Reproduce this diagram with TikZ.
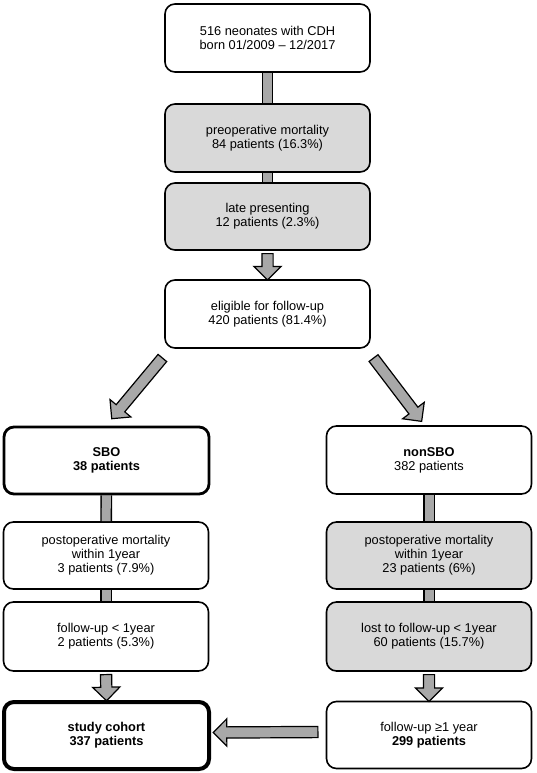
\documentclass[tikz,border=0pt]{standalone}
\usepackage{fontspec}
\setmainfont{Liberation Sans}
\usetikzlibrary{shapes.arrows,calc}
\definecolor{boxgray}{RGB}{217,217,217}
\definecolor{arrowgray}{RGB}{168,168,168}
\tikzset{
  stagebox/.style={draw, line width=1.6pt, rounded corners=10pt, minimum width=205pt,
    minimum height=68pt, align=center, inner sep=2pt, font=\fontsize{12.8}{14}\selectfont},
  exclbox/.style={stagebox, fill=boxgray},
  armbox/.style={stagebox, line width=2.8pt},
  finalbox/.style={stagebox, line width=4pt},
  link/.style={line width=1.4pt, double=arrowgray, double distance=9pt},
  bigarrow/.style={single arrow, draw, line width=1.2pt, fill=arrowgray, inner xsep=0pt,
    inner ysep=5pt, single arrow head extend=8pt, single arrow tip angle=90}
}
\newcommand{\fatarrow}[2]{%
  \path let \p1=($(#2)-(#1)$), \n1={veclen(\x1,\y1)}, \n2={atan2(\y1,\x1)} in
    node[bigarrow, minimum height=\n1, rotate=\n2] at ($(#1)!0.5!(#2)$) {};}

\begin{document}
\begin{tikzpicture}[x=1pt,y=-1pt]
\useasboundingbox (0,0) rectangle (536,773);
\node[stagebox] (born) at (267.5,38) {516 neonates with CDH\\born 01/2009 -- 12/2017};
\node[exclbox] (preop) at (267.5,138) {preoperative mortality\\84 patients (16.3\%)};
\node[exclbox, minimum height=67pt] (late) at (267.5,216.5) {late presenting\\12 patients (2.3\%)};
\node[stagebox] (elig) at (267.5,314) {eligible for follow-up\\420 patients (81.4\%)};
\node[armbox, minimum height=67pt] (sbo) at (106.5,460.5) {\textbf{SBO}\\\textbf{38 patients}};
\node[stagebox] (nonsbo) at (429,460) {\textbf{nonSBO}\\382 patients};
\node[stagebox, minimum height=67pt] (postl) at (106,555.5)
  {postoperative mortality\\within 1year\\3 patients (7.9\%)};
\node[exclbox, minimum height=67pt] (postr) at (429,555.5)
  {postoperative mortality\\within 1year\\23 patients (6\%)};
\node[stagebox, minimum height=69pt] (ful) at (106,636.5) {follow-up < 1year\\2 patients (5.3\%)};
\node[exclbox, minimum height=69pt] (lostr) at (429,636.5)
  {lost to follow-up < 1year\\60 patients (15.7\%)};
\node[finalbox, minimum height=67pt] (study) at (106.5,735.5)
  {\textbf{study cohort}\\\textbf{337 patients}};
\node[stagebox, minimum height=67pt] (fur) at (429,735) {follow-up ≥1 year\\\textbf{299 patients}};
% plain links
\draw[link] (born) -- (preop);
\draw[link] (preop) -- (late);
\draw[link] (sbo) -- (postl);
\draw[link] (postl) -- (ful);
\draw[link] (nonsbo) -- (postr);
\draw[link] (postr) -- (lostr);
% arrow ends
\coordinate (e1) at ($(elig.north)+(0,-2)$);
\coordinate (dl0) at ($(elig.south west)+(0,7)$);
\coordinate (dl1) at ($(sbo.north)+(7,-9)$);
\coordinate (dr0) at ($(elig.south east)+(1,7)$);
\coordinate (dr1) at ($(nonsbo.north)+(-9,-6)$);
\coordinate (s1) at ($(study.north)+(0,-2)$);
\coordinate (f1) at ($(fur.north)+(0,-2)$);
\coordinate (h0) at ($(fur.west)+(-5,-3)$);
\coordinate (h1) at ($(study.east)+(5,-3)$);
\fatarrow{late.south}{e1}
\fatarrow{dl0}{dl1}
\fatarrow{dr0}{dr1}
\fatarrow{ful.south}{s1}
\fatarrow{lostr.south}{f1}
\fatarrow{h0}{h1}
\end{tikzpicture}
\end{document}
